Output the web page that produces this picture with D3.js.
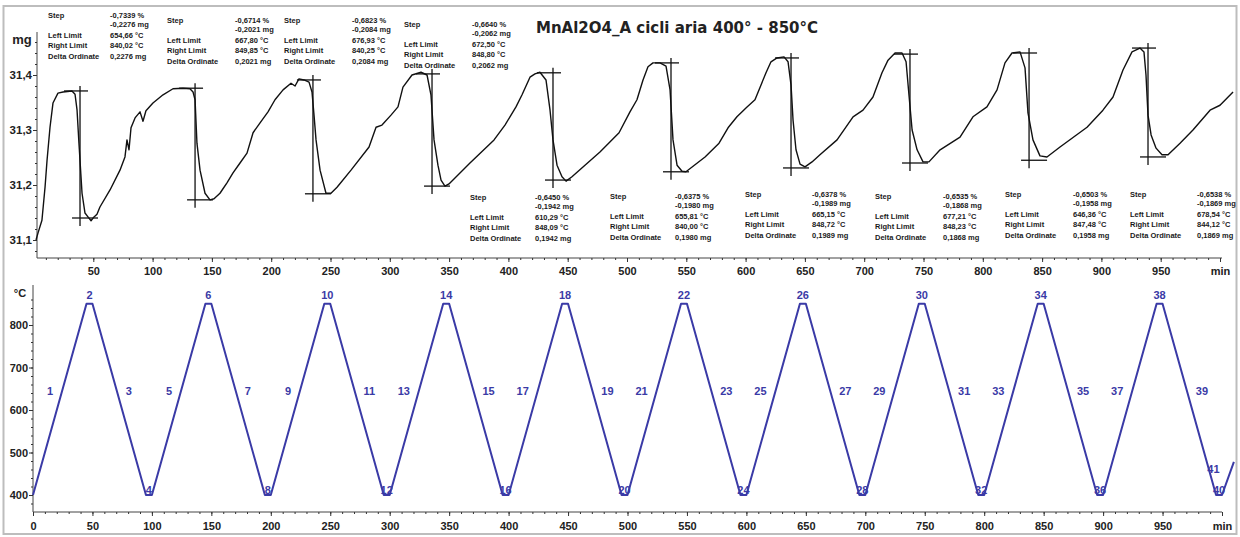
<!DOCTYPE html>
<html><head><meta charset="utf-8">
<script src="https://cdn.jsdelivr.net/npm/d3@7"></script>
<style>body{margin:0;background:#fff}svg{display:block}</style>
</head><body>
<svg id="c" width="1240" height="537"></svg>
<script>
// ---------- DATA ----------
const chartTitle = "MnAl2O4_A cicli aria 400° - 850°C";

// mass curve (min, mg)
const massTime = [1.7,3.4,6.7,9.3,11.0,13.5,16.0,20.2,24.5,32.0,34.6,36.3,37.9,40.5,43.0,45.5,48.1,50.6,53.1,55.6,64.1,72.5,76.7,78.4,80.1,81.8,85.2,89.4,91.9,94.4,100.3,108.8,117.2,125.6,131.5,134.1,135.8,137.4,140.0,144.2,148.4,151.8,156.8,162.7,167.8,173.7,179.6,184.7,190.6,197.3,203.2,210.0,216.7,220.1,223.4,227.7,231.9,234.4,236.1,237.8,241.2,246.2,250.4,255.5,267.3,282.5,288.4,293.4,301.0,306.9,311.1,318.7,326.3,331.4,334.7,337.3,340.6,343.2,346.5,349.9,367.6,387.9,397.1,406.4,411.5,418.2,422.4,426.6,431.7,435.1,437.6,441.0,445.2,448.6,453.6,477.2,493.3,502.5,508.4,513.5,517.7,521.9,527.8,532.9,536.3,538.8,542.2,546.4,549.7,565.8,577.6,585.2,592.7,601.2,607.9,613.0,617.2,621.4,626.5,632.4,635.8,638.3,640.0,642.5,645.9,650.1,656.0,662.7,677.1,690.6,699.0,707.4,715.0,720.1,726.0,731.9,735.3,737.9,740.4,744.6,749.6,754.6,764.0,780.8,791.7,803.5,812.0,818.7,824.6,831.4,835.6,838.1,842.3,848.2,854.1,865.1,887.9,901.3,909.8,918.2,925.8,932.5,935.9,937.6,939.3,941.9,946.1,951.1,956.2,966.3,977.2,991.6,1000.0,1011.0];
const massValue = [31.100,31.113,31.136,31.196,31.245,31.305,31.349,31.367,31.369,31.371,31.365,31.336,31.276,31.185,31.149,31.142,31.135,31.142,31.147,31.160,31.191,31.227,31.251,31.282,31.264,31.304,31.322,31.333,31.316,31.335,31.349,31.364,31.375,31.376,31.375,31.369,31.355,31.276,31.227,31.185,31.173,31.175,31.185,31.204,31.222,31.240,31.258,31.295,31.313,31.333,31.355,31.373,31.385,31.380,31.393,31.391,31.387,31.369,31.327,31.282,31.227,31.185,31.185,31.196,31.227,31.269,31.305,31.309,31.327,31.342,31.378,31.400,31.405,31.400,31.364,31.282,31.236,31.209,31.198,31.202,31.240,31.282,31.309,31.342,31.364,31.396,31.402,31.405,31.391,31.336,31.282,31.236,31.215,31.207,31.215,31.260,31.295,31.333,31.355,31.391,31.415,31.422,31.422,31.416,31.373,31.282,31.236,31.225,31.224,31.251,31.276,31.304,31.324,31.342,31.355,31.382,31.404,31.424,31.431,31.433,31.424,31.382,31.318,31.264,31.238,31.233,31.242,31.255,31.282,31.324,31.336,31.360,31.404,31.427,31.440,31.440,31.424,31.360,31.300,31.264,31.242,31.242,31.264,31.287,31.324,31.342,31.373,31.422,31.440,31.442,31.413,31.331,31.282,31.253,31.251,31.269,31.305,31.336,31.360,31.409,31.442,31.449,31.442,31.400,31.327,31.291,31.267,31.255,31.255,31.276,31.300,31.336,31.345,31.369];

// step evaluations
const stepTime = [38.8,135.8,235.2,335.6,437.6,537.1,638.3,738.6,839.0,939.3];
const stepLeftMass = [31.371,31.376,31.391,31.402,31.404,31.422,31.431,31.438,31.440,31.449];
const stepRightMass = [31.140,31.173,31.184,31.198,31.209,31.224,31.231,31.240,31.245,31.251];
const stepRowLabels = ["Step","","Left Limit","Right Limit","Delta Ordinate"];
const stepPercent = ["-0,7339 %","-0,6714 %","-0,6823 %","-0,6640 %","-0,6450 %","-0,6375 %","-0,6378 %","-0,6535 %","-0,6503 %","-0,6538 %"];
const stepMg = ["-0,2276 mg","-0,2021 mg","-0,2084 mg","-0,2062 mg","-0,1942 mg","-0,1980 mg","-0,1989 mg","-0,1868 mg","-0,1958 mg","-0,1869 mg"];
const stepLeftLimit = ["654,66 °C","667,80 °C","676,93 °C","672,50 °C","610,29 °C","655,81 °C","665,15 °C","677,21 °C","646,36 °C","678,54 °C"];
const stepRightLimit = ["840,02 °C","849,85 °C","840,25 °C","848,80 °C","848,09 °C","840,00 °C","848,72 °C","848,23 °C","847,48 °C","844,12 °C"];
const stepDelta = ["0,2276 mg","0,2021 mg","0,2084 mg","0,2062 mg","0,1942 mg","0,1980 mg","0,1989 mg","0,1868 mg","0,1958 mg","0,1869 mg"];

// temperature program (min, °C)
const tempTime = [0,45,50,95,100,145,150,195,200,245,250,295,300,345,350,395,400,445,450,495,500,545,550,595,600,645,650,695,700,745,750,795,800,845,850,895,900,945,950,995,1000,1010];
const tempValue = [400,850,850,400,400,850,850,400,400,850,850,400,400,850,850,400,400,850,850,400,400,850,850,400,400,850,850,400,400,850,850,400,400,850,850,400,400,850,850,400,400,478];
const segmentLabels = [1,2,3,4,5,6,7,8,9,10,11,12,13,14,15,16,17,18,19,20,21,22,23,24,25,26,27,28,29,30,31,32,33,34,35,36,37,38,39,40,41];

// axes
const topTimeTicks = [50,100,150,200,250,300,350,400,450,500,550,600,650,700,750,800,850,900,950];
const bottomTimeTicks = [0,50,100,150,200,250,300,350,400,450,500,550,600,650,700,750,800,850,900,950];
const massTicks = [31.1,31.2,31.3,31.4];
const massTickLabels = ["31,1","31,2","31,3","31,4"];
const tempTicks = [400,500,600,700,800];

// ---------- LAYOUT ----------
const blockLayout = [[48,16,62],[167,21,68],[284,21,68],[404,25,68],[470,198,65],[610,197,65],[745,195,67],[875,197,68],[1005,195,68],[1130,195,67]];
const rowOffsets = [0,9.5,20.5,30.5,41];
const BLUE = "#3a3aa6";

const svg = d3.select("#c");
svg.append("rect").attr("x",3.5).attr("y",6).attr("width",1233).attr("height",528)
  .attr("fill","none").attr("stroke","#bdbdbd").attr("stroke-width",2);

const xT = d3.scaleLinear().domain([0,1000]).range([34,1220]);
const yT = d3.scaleLinear().domain([31.1,31.4]).range([240,75]);
const xB = d3.scaleLinear().domain([0,1000]).range([33,1222]);
const yB = d3.scaleLinear().domain([400,800]).range([495,325]);

const axisFont = "Liberation Sans, Arial, sans-serif";
function styleAxis(g, size){
  g.select(".domain").remove();
  g.selectAll("line").attr("stroke","#333");
  g.selectAll("text").attr("font-family",axisFont).attr("font-size",size).attr("font-weight","bold").attr("fill","#222");
}

// ---- top axes ----
const TOP_AX_Y = 258, TOP_AX_X = 37;
svg.append("line").attr("x1",TOP_AX_X).attr("x2",1222).attr("y1",TOP_AX_Y).attr("y2",TOP_AX_Y).attr("stroke","#444");
svg.append("line").attr("x1",TOP_AX_X).attr("x2",TOP_AX_X).attr("y1",32).attr("y2",TOP_AX_Y).attr("stroke","#444");
svg.append("g").attr("transform",`translate(0,${TOP_AX_Y})`)
  .call(d3.axisBottom(xT).tickValues(d3.range(10,1001,10)).tickSize(2).tickFormat(""))
  .call(g=>styleAxis(g,10));
svg.append("g").attr("transform",`translate(0,${TOP_AX_Y})`)
  .call(d3.axisBottom(xT).tickValues(topTimeTicks.concat([1000])).tickSize(4).tickPadding(5)
    .tickFormat(d=> d===1000 ? "min" : d))
  .call(g=>styleAxis(g,11));
svg.append("g").attr("transform",`translate(${TOP_AX_X},0)`)
  .call(d3.axisLeft(yT).tickValues(d3.range(31.08,31.47,0.02)).tickSize(2).tickFormat(""))
  .call(g=>styleAxis(g,10));
svg.append("g").attr("transform",`translate(${TOP_AX_X},0)`)
  .call(d3.axisLeft(yT).tickValues(massTicks).tickSize(4).tickPadding(1)
    .tickFormat((d,i)=>massTickLabels[i]))
  .call(g=>styleAxis(g,11.5));
svg.append("text").attr("x",22).attr("y",44).attr("text-anchor","middle")
  .attr("font-family",axisFont).attr("font-weight","bold").attr("font-size",13).attr("fill","#222").text("mg");

// mass curve
const massPts = massTime.map((t,i)=>[t,massValue[i]]);
svg.append("path").datum(massPts)
  .attr("d", d3.line().x(d=>xT(d[0])).y(d=>yT(d[1])))
  .attr("fill","none").attr("stroke","#111").attr("stroke-width",1.4).attr("stroke-linejoin","round");

// step crosses
const cross = svg.append("g").attr("stroke","#111").attr("stroke-width",1.3);
stepTime.forEach((t,i)=>{
  const x = xT(t), yTop = yT(stepLeftMass[i]), yBot = yT(stepRightMass[i]);
  cross.append("line").attr("x1",x-16).attr("x2",x+8).attr("y1",yTop).attr("y2",yTop);
  cross.append("line").attr("x1",x-8).attr("x2",x+18).attr("y1",yBot).attr("y2",yBot);
  cross.append("line").attr("x1",x).attr("x2",x).attr("y1",yTop-5).attr("y2",yBot+8);
});

// step text blocks
const smallFont = "Liberation Sans, Arial, sans-serif";
blockLayout.forEach((b,i)=>{
  const [lx,ly,vo] = b;
  const g = svg.append("g").attr("font-family",smallFont).attr("font-size",7.5).attr("font-weight","bold").attr("fill","#1a1a1a");
  const vals = [stepPercent[i],stepMg[i],stepLeftLimit[i],stepRightLimit[i],stepDelta[i]];
  stepRowLabels.forEach((lab,r)=>{
    if(lab) g.append("text").attr("x",lx).attr("y",ly+rowOffsets[r]).attr("dominant-baseline","middle").text(lab);
    g.append("text").attr("x",lx+vo).attr("y",ly+rowOffsets[r]).attr("dominant-baseline","middle").text(vals[r]);
  });
});

// title
svg.append("text").attr("x",677).attr("y",33).attr("text-anchor","middle")
  .attr("font-family","DejaVu Sans, sans-serif").attr("font-weight","bold").attr("font-size",15).attr("fill","#222")
  .text(chartTitle);

// ---- bottom axes ----
const BOT_AX_Y = 512, BOT_AX_X = 33;
svg.append("line").attr("x1",BOT_AX_X).attr("x2",1222).attr("y1",BOT_AX_Y).attr("y2",BOT_AX_Y).attr("stroke","#444");
svg.append("line").attr("x1",BOT_AX_X).attr("x2",BOT_AX_X).attr("y1",285).attr("y2",BOT_AX_Y).attr("stroke","#444");
svg.append("g").attr("transform",`translate(0,${BOT_AX_Y})`)
  .call(d3.axisBottom(xB).tickValues(d3.range(10,1001,10)).tickSize(2).tickFormat(""))
  .call(g=>styleAxis(g,10));
svg.append("g").attr("transform",`translate(0,${BOT_AX_Y})`)
  .call(d3.axisBottom(xB).tickValues(bottomTimeTicks.concat([1000])).tickSize(4).tickPadding(6)
    .tickFormat(d=> d===1000 ? "min" : d))
  .call(g=>styleAxis(g,11));
svg.append("g").attr("transform",`translate(${BOT_AX_X},0)`)
  .call(d3.axisLeft(yB).tickValues(d3.range(380,861,20)).tickSize(2).tickFormat(""))
  .call(g=>styleAxis(g,10));
svg.append("g").attr("transform",`translate(${BOT_AX_X},0)`)
  .call(d3.axisLeft(yB).tickValues(tempTicks).tickSize(4).tickPadding(1))
  .call(g=>styleAxis(g,11));
svg.append("text").attr("x",20).attr("y",297).attr("text-anchor","middle")
  .attr("font-family",axisFont).attr("font-weight","bold").attr("font-size",11).attr("fill","#222").text("°C");

// temperature curve
const tempPts = tempTime.map((t,i)=>[t,tempValue[i]]);
svg.append("path").datum(tempPts)
  .attr("d", d3.line().x(d=>xB(d[0])).y(d=>yB(d[1])))
  .attr("fill","none").attr("stroke",BLUE).attr("stroke-width",2).attr("stroke-linejoin","round");

// segment labels
const lg = svg.append("g").attr("font-family",axisFont).attr("font-size",11).attr("font-weight","bold").attr("fill",BLUE);
segmentLabels.forEach((n,i)=>{
  const t0 = tempTime[i], t1 = tempTime[i+1], v0 = tempValue[i], v1 = tempValue[i+1];
  let x, y, anchor = "middle";
  if (v0 === v1) {
    x = xB((t0+t1)/2);
    y = v0 > 600 ? yB(v0) - 8 : yB(v0) - 4;
  } else if (v1 > v0) {
    anchor = "end";
    if (v1 >= 850) { x = xB(t0 + 17); y = 392; }
    else { x = xB(t0 - 2); y = yB(v1) + 8; }
  } else {
    anchor = "start"; x = xB(t0 + 28); y = 392;
  }
  lg.append("text").attr("x",x).attr("y",y).attr("text-anchor",anchor).attr("dominant-baseline","middle").text(n);
});
</script>
</body></html>
